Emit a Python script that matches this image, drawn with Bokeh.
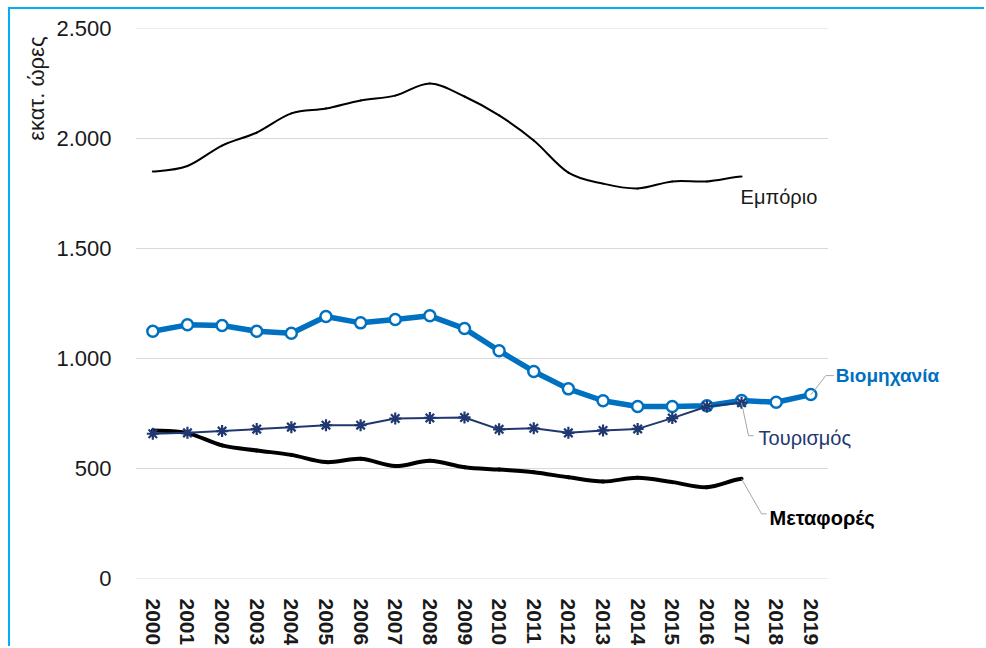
import numpy as np
from bokeh.plotting import figure
from bokeh.models import FixedTicker, Label, Arrow, Range1d, Title
from bokeh.embed import file_html
from bokeh.resources import INLINE

years = list(range(2000, 2020))
years_17 = list(range(2000, 2018))

emporio = [1850, 1875, 1968, 2027, 2114, 2136, 2173, 2195, 2250, 2191,
           2105, 1991, 1845, 1795, 1773, 1805, 1805, 1827]
viomichania = [1124, 1153, 1150, 1124, 1115, 1191, 1162, 1177, 1194, 1136,
               1035, 941, 862, 808, 782, 782, 785, 809, 801, 836]
tourismos = [658, 662, 670, 679, 688, 697, 697, 727, 730, 732,
             678, 683, 662, 673, 680, 729, 782, 799]
metafores = [673, 661, 605, 582, 562, 529, 544, 511, 535, 506,
             495, 483, 460, 441, 458, 438, 415, 453]

y_ticks = [0, 500, 1000, 1500, 2000, 2500]
y_tick_labels = ["0", "500", "1.000", "1.500", "2.000", "2.500"]

FONT = "Liberation Sans"
BLUE = "#0070C0"
NAVY = "#1F3872"
GRAY = "#A6A6A6"
TXT = "#1A1A1A"

W, H = 976, 639
ML, MR, MT, MB = 125, 2, 19, 70
FW = W - ML - MR
FH = H - MT - MB  # 550
PX_X = 658 / 19.0
XMIN = 1999.5
XGRID_END = 2019.5
XMAX = XMIN + FW / PX_X
YMIN, YMAX = 0, 2500
PX_Y = FH / (YMAX - YMIN)


def ddx(px):
    return px / PX_X


def ddy(px):
    return px / PX_Y


p = figure(width=W, height=H, output_backend="svg", toolbar_location=None,
           x_range=Range1d(XMIN, XMAX), y_range=Range1d(YMIN, YMAX),
           min_border_left=ML, min_border_right=MR, min_border_top=MT,
           min_border_bottom=MB,
           styles={"margin-left": "8px", "margin-top": "7px",
                   "border-left": "2px solid #00B0F0",
                   "border-top": "2px solid #00B0F0"})
p.outline_line_color = None
p.background_fill_color = "white"
p.border_fill_color = "white"
p.xgrid.grid_line_color = None
p.ygrid.grid_line_color = None

# horizontal grid lines over the category span only
p.segment(x0=[XMIN] * len(y_ticks), x1=[XGRID_END] * len(y_ticks),
          y0=y_ticks, y1=y_ticks, line_color="#D9D9D9", line_width=1)

p.yaxis.ticker = FixedTicker(ticks=y_ticks)
p.yaxis.major_label_overrides = {t: l for t, l in zip(y_ticks, y_tick_labels)}
p.yaxis.axis_line_color = None
p.yaxis.major_tick_line_color = None
p.yaxis.minor_tick_line_color = None
p.yaxis.major_label_text_font = FONT
p.yaxis.major_label_text_font_size = "22px"
p.yaxis.major_label_text_color = TXT
p.yaxis.major_label_standoff = 18

p.xaxis.ticker = FixedTicker(ticks=years)
p.xaxis.major_label_overrides = {y: str(y) for y in years}
p.xaxis.axis_line_color = None
p.xaxis.major_tick_line_color = None
p.xaxis.minor_tick_line_color = None
p.xaxis.major_label_orientation = "vertical"
p.xaxis.major_label_text_font = FONT
p.xaxis.major_label_text_font_size = "21px"
p.xaxis.major_label_text_font_style = "bold"
p.xaxis.major_label_text_color = TXT
p.xaxis.major_label_standoff = 14


def smooth(xs, ys, color, width):
    xs = np.asarray(xs, float)
    ys = np.asarray(ys, float)
    n = len(xs)
    xe = np.concatenate([[2 * xs[0] - xs[1]], xs, [2 * xs[-1] - xs[-2]]])
    ye = np.concatenate([[ys[0]], ys, [ys[-1]]])
    x0, y0 = xs[:-1], ys[:-1]
    x1, y1 = xs[1:], ys[1:]
    cx0 = x0 + (xe[2:n + 1] - xe[0:n - 1]) / 6
    cy0 = y0 + (ye[2:n + 1] - ye[0:n - 1]) / 6
    cx1 = x1 - (xe[3:n + 2] - xe[1:n]) / 6
    cy1 = y1 - (ye[3:n + 2] - ye[1:n]) / 6
    p.bezier(x0=x0, y0=y0, x1=x1, y1=y1, cx0=cx0, cy0=cy0, cx1=cx1, cy1=cy1,
             line_color=color, line_width=width, line_cap="round")


smooth(years_17, emporio, "#000000", 2)
smooth(years_17, metafores, "#000000", 4)

p.line(years, viomichania, line_color=BLUE, line_width=5.5, line_join="round")
p.scatter(years, viomichania, marker="circle", size=11, fill_color="white",
          line_color=BLUE, line_width=2.5)

p.line(years_17, tourismos, line_color=NAVY, line_width=2)
p.scatter(years_17, tourismos, marker="asterisk", size=12, line_color=NAVY,
          line_width=2.2)


def leader(x, y, pts):
    # pts: pixel offsets (right, down) from the data point
    prev = (x, y)
    for (ox, oy) in pts:
        nxt = (x + ddx(ox), y - ddy(oy))
        p.add_layout(Arrow(end=None, start=None, x_start=prev[0], y_start=prev[1],
                           x_end=nxt[0], y_end=nxt[1], line_color=GRAY,
                           line_width=1))
        prev = nxt


def tag(x, y, ox, oy, text, color, bold=False, size="20px"):
    p.add_layout(Label(x=x + ddx(ox), y=y - ddy(oy), text=text,
                       text_font=FONT, text_font_size=size, text_color=color,
                       text_font_style="bold" if bold else "normal",
                       text_align="left", text_baseline="middle"))


# Εμπόριο
tag(years_17[-1], emporio[-1], -1, 20, "Εμπόριο", TXT)
# Βιομηχανία
leader(years[-1], viomichania[-1], [(5, -6), (15, -19), (23, -19)])
tag(years[-1], viomichania[-1], 25, -19, "Βιομηχανία", BLUE, bold=True, size="19px")
# Τουρισμός
leader(years_17[-1], tourismos[-1], [(0, 0), (7, 33), (12, 33)])
tag(years_17[-1], tourismos[-1], 17, 35, "Τουρισμός", NAVY)
# Μεταφορές
leader(years_17[-1], metafores[-1], [(0, 0), (20, 35), (25, 35)])
tag(years_17[-1], metafores[-1], 28, 39, "Μεταφορές", "#000000", bold=True)

# y-axis title, top aligned, on the left
p.add_layout(Title(text="εκατ. ώρες", align="right", text_font=FONT,
                   text_font_size="22px", text_font_style="normal",
                   text_color=TXT, standoff=10, offset=8), "left")

open("out.html", "w").write(file_html(p, INLINE))
